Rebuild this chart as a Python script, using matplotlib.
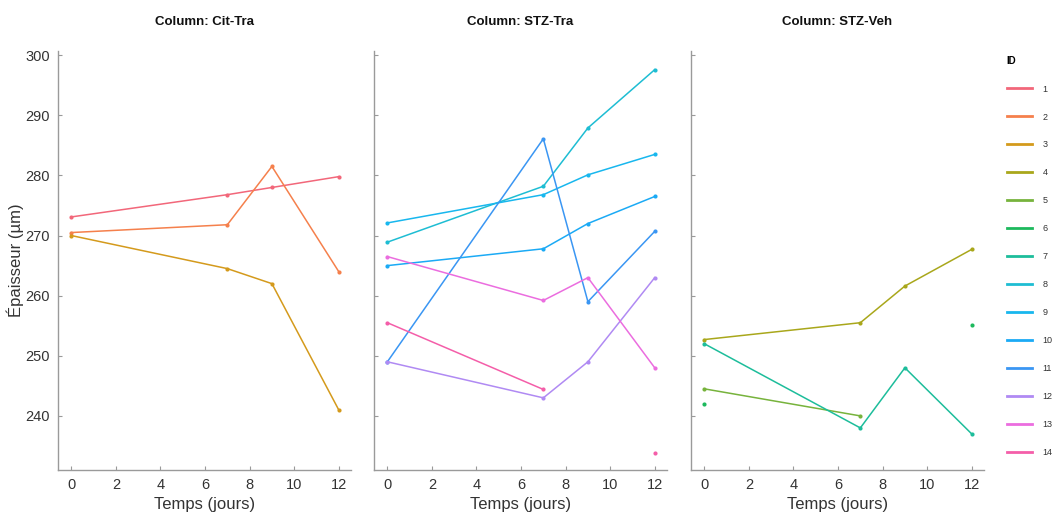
import numpy as np
import matplotlib
matplotlib.use('Agg')
import matplotlib.pyplot as plt
from matplotlib.lines import Line2D

plt.rcParams['font.family'] = ['Liberation Sans', 'DejaVu Sans']

# measurement days
days = [0, 7, 9, 12]
nan = np.nan

# thickness (µm) per subject ID, grouped by treatment column
groups = ['Cit-Tra', 'STZ-Tra', 'STZ-Veh']
group_ids = {
    'Cit-Tra': [1, 2, 3],
    'STZ-Tra': [8, 9, 10, 11, 12, 13, 14],
    'STZ-Veh': [4, 5, 6, 7],
}
thickness = {
    1: [273.1, 276.8, 278.0, 279.8],
    2: [270.5, 271.8, 281.5, 264.0],
    3: [270.0, 264.5, 262.0, 241.0],
    4: [252.7, 255.5, 261.6, 267.7],
    5: [244.5, 240.0, nan, nan],
    6: [242.0, nan, nan, 255.2],
    7: [252.0, 238.0, 248.0, 237.0],
    8: [268.9, 278.2, 287.9, 297.6],
    9: [272.1, 276.8, 280.1, 283.5],
    10: [265.0, 267.8, 272.0, 276.5],
    11: [249.0, 286.1, 259.0, 270.7],
    12: [249.0, 243.0, 249.0, 263.0],
    13: [266.5, 259.2, 263.0, 248.0],
    14: [255.5, 244.4, nan, 233.9],
}
ids = list(range(1, 15))

colors = {
    1: '#F2677A', 2: '#F5804C', 3: '#D49A1C', 4: '#A9A71B',
    5: '#77B33C', 6: '#1DB95D', 7: '#1DBD9B', 8: '#1EBDD3',
    9: '#18B7EE', 10: '#1BAAF5', 11: '#3A96F3', 12: '#B08AF3',
    13: '#EB6DDF', 14: '#F45EA9',
}

fig = plt.figure(figsize=(10.55, 5.15), dpi=100)
lefts = [58, 374, 691]
axes = []
for i, grp in enumerate(groups):
    ax = fig.add_axes([lefts[i] / 1055, 1 - 470 / 515, 293 / 1055, 419 / 515])
    axes.append(ax)
    for sid in group_ids[grp]:
        ax.plot(days, thickness[sid], color=colors[sid], lw=1.1,
                marker='o', ms=3, mew=0)
    ax.set_xlim(-0.6, 12.55)
    ax.set_ylim(231, 300.7)
    ax.set_xticks([0, 2, 4, 6, 8, 10, 12])
    ax.set_yticks([240, 250, 260, 270, 280, 290, 300])
    for s in ['top', 'right']:
        ax.spines[s].set_visible(False)
    for s in ['left', 'bottom']:
        ax.spines[s].set_color('#9a9a9a')
        ax.spines[s].set_linewidth(1.0)
    ax.tick_params(direction='in', length=3, color='#9a9a9a',
                   labelsize=10.5, labelcolor='#333333', pad=6)
    ax.set_xlabel('Temps (jours)', fontsize=12, color='#333333', labelpad=3)
    ax.set_title('Column: ' + grp, fontsize=9.5, fontweight='bold',
                 color='#111111', pad=19)
    if i > 0:
        ax.tick_params(labelleft=False)

axes[0].set_ylabel('Épaisseur (µm)', fontsize=12, color='#333333', labelpad=1)

handles = [Line2D([], [], color=colors[sid], lw=2) for sid in ids]
leg = fig.legend(handles, [str(s) for s in ids], title='ID',
                 loc='upper left', bbox_to_anchor=(1003 / 1055, 1 - 52 / 515),
                 frameon=False, fontsize=6.5, title_fontsize=7,
                 handlelength=2.8, handletextpad=1.2, labelspacing=2.1,
                 alignment='left', borderaxespad=0)
leg.get_title().set_fontweight('bold')
for t in leg.get_texts():
    t.set_color('#333333')

fig.savefig('out.png', dpi=100, facecolor='white')
